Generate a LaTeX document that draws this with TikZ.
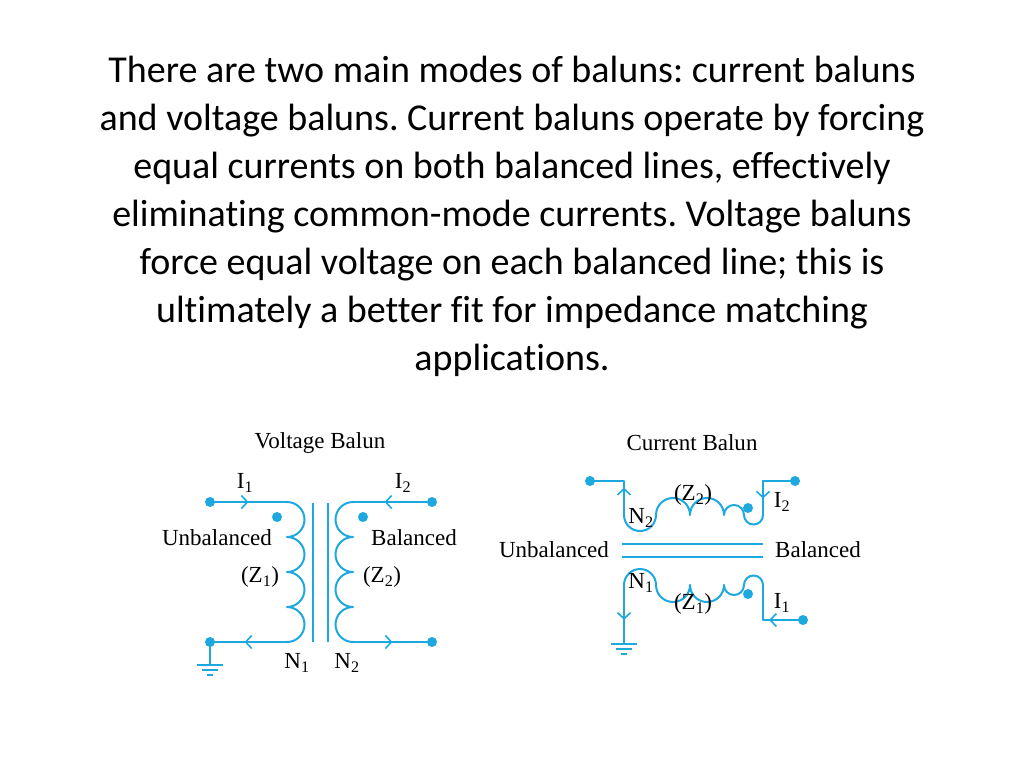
\documentclass[tikz,border=0pt]{standalone}
\usepackage{fontspec}
\setmainfont{Liberation Serif}
\newfontfamily\titlefont[Ligatures=NoCommon]{Carlito}
\usetikzlibrary{arrows.meta, decorations.markings}

\definecolor{wire}{HTML}{1EA8E0}

\begin{document}
\frenchspacing
\begin{tikzpicture}[x=1pt, y=-1pt,
    wirepath/.style={draw=wire, line width=2pt, line join=round},
    midarrow/.style={postaction={decorate, decoration={markings,
        mark=at position #1 with {\arrow[wire, line width=1.6pt]{Straight Barb[length=6pt, width=13pt]}}}}},
    pin/.style={circle, fill=wire, inner sep=0pt, minimum size=10pt},
    lbl/.style={font=\fontsize{23}{26}\selectfont, inner sep=0pt}]
    \useasboundingbox (0,0) rectangle (1024,768);

    % Title text
    \node[font=\titlefont\fontsize{38}{48}\selectfont, align=center] (intro) at (512,216)
      {There are two main modes of baluns: current baluns\\
       and voltage baluns. Current baluns operate by forcing\\
       equal currents on both balanced lines, effectively\\
       eliminating common-mode currents. Voltage baluns\\
       force equal voltage on each balanced line; this is\\
       ultimately a better fit for impedance matching\\
       applications.};

    % Voltage balun
    \node[lbl] (vtitle) at (320,443) {Voltage Balun};
    \node[pin] (vin1) at (210,502) {};
    \node[pin] (vin2) at (210,642) {};
    \node[pin] (vout1) at (432,502) {};
    \node[pin] (vout2) at (432,642) {};
    \fill[wire] (277,517) circle (5pt) (363,517) circle (5pt);
    \draw[wirepath, midarrow=0.5] (vin1.center) -- (287,502);
    \draw[wirepath] (287,502) arc(-90:90:17.5) arc(-90:90:17.5) arc(-90:90:17.5) arc(-90:90:17.5);
    \draw[wirepath, midarrow=0.55] (287,642) -- (vin2.center);
    \draw[wirepath, midarrow=0.6] (vout1.center) -- (353,502);
    \draw[wirepath] (353,502) arc(-90:-270:17.5) arc(-90:-270:17.5) arc(-90:-270:17.5) arc(-90:-270:17.5);
    \draw[wirepath, midarrow=0.5] (353,642) -- (vout2.center);
    \draw[wirepath] (313,503) -- (313,642) (328,503) -- (328,642);
    \draw[wirepath] (vin2.center) -- (210,665);
    \draw[draw=wire, line width=1.5pt] (197,665) -- (223,665) (202,670) -- (218,670) (207,675) -- (213,675);
    \node[lbl] at (245,483) {I\textsubscript{1}};
    \node[lbl] at (403,483) {I\textsubscript{2}};
    \node[lbl] at (217,538) {Unbalanced};
    \node[lbl] at (414,538) {Balanced};
    \node[lbl] at (260,577) {(Z\textsubscript{1})};
    \node[lbl] at (382,577) {(Z\textsubscript{2})};
    \node[lbl] at (297,663) {N\textsubscript{1}};
    \node[lbl] at (347,663) {N\textsubscript{2}};

    % Current balun
    \node[lbl] (ctitle) at (692,443) {Current Balun};
    \node[pin] (cin1) at (590,481) {};
    \node[pin] (cout2) at (795,481) {};
    \node[pin] (cout1) at (803,620) {};
    \fill[wire] (748,508) circle (5pt) (748,594) circle (5pt);
    \draw[wirepath, midarrow=0.4] (624,515) -- (624,481) -- (cin1.center);
    \draw[wirepath] (624,515) arc(180:0:16) arc(180:360:17) arc(180:360:17) arc(180:360:10) arc(180:0:9.5);
    \draw[wirepath, midarrow=0.75] (cout2.center) -- (763,481) -- (763,515);
    \draw[wirepath] (622,544) -- (763,544) (622,557) -- (763,557);
    \draw[wirepath] (624,585) arc(180:360:16) arc(180:0:17) arc(180:0:17) arc(180:0:10) arc(180:360:9.5);
    \draw[wirepath, midarrow=0.6] (624,585) -- (624,643);
    \draw[wirepath, midarrow=0.45] (cout1.center) -- (763,620) -- (763,585);
    \draw[draw=wire, line width=1.5pt] (611,644) -- (637,644) (616,649) -- (632,649) (621,654) -- (627,654);
    \node[lbl] at (693,495) {(Z\textsubscript{2})};
    \node[lbl] at (641,518) {N\textsubscript{2}};
    \node[lbl] at (782,502) {I\textsubscript{2}};
    \node[lbl] at (554,550) {Unbalanced};
    \node[lbl] at (818,550) {Balanced};
    \node[lbl] at (641,583) {N\textsubscript{1}};
    \node[lbl] at (693,604) {(Z\textsubscript{1})};
    \node[lbl] at (782,603) {I\textsubscript{1}};
\end{tikzpicture}
\end{document}
